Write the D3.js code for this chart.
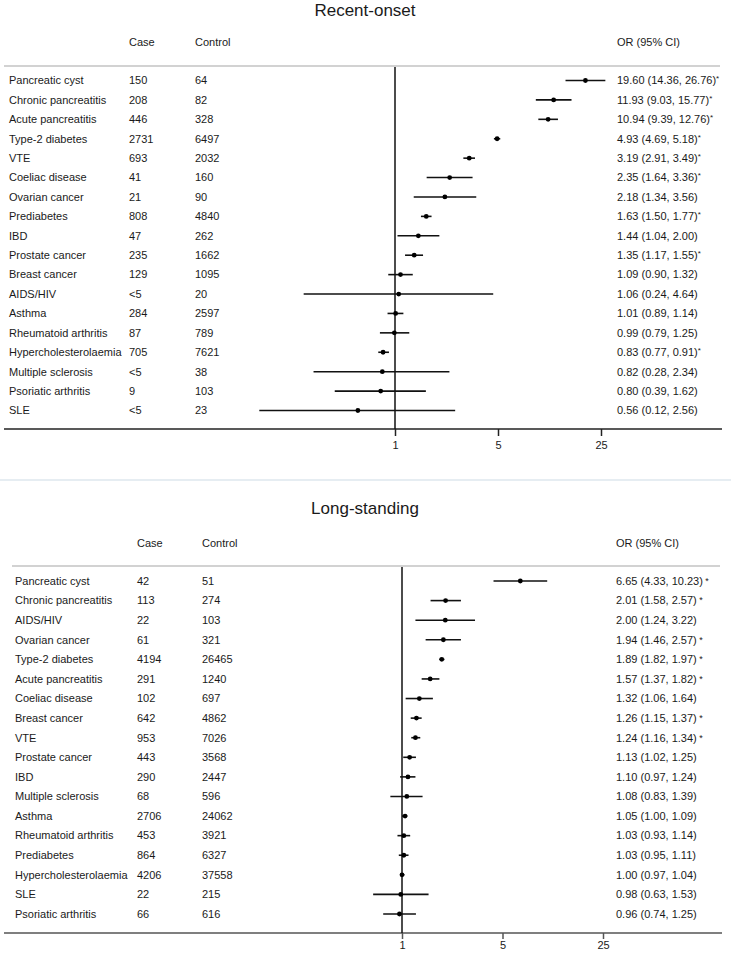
<!DOCTYPE html>
<html>
<head>
<meta charset="utf-8">
<script src="https://cdn.jsdelivr.net/npm/d3@7"></script>
<style>
  html, body { margin: 0; padding: 0; background: #fff; }
  svg { display: block; }
  text { font-family: "Liberation Sans", Arial, Helvetica, sans-serif; fill: #1a1a1a; }
</style>
</head>
<body>
<svg id="chart" width="731" height="954"></svg>
<script>
// ---------- Data: Recent-onset ----------
const recentCategories = ["Pancreatic cyst","Chronic pancreatitis","Acute pancreatitis","Type-2 diabetes","VTE","Coeliac disease","Ovarian cancer","Prediabetes","IBD","Prostate cancer","Breast cancer","AIDS/HIV","Asthma","Rheumatoid arthritis","Hypercholesterolaemia","Multiple sclerosis","Psoriatic arthritis","SLE"];
const recentCase    = ["150","208","446","2731","693","41","21","808","47","235","129","<5","284","87","705","<5","9","<5"];
const recentControl = ["64","82","328","6497","2032","160","90","4840","262","1662","1095","20","2597","789","7621","38","103","23"];
const recentOR      = [19.60,11.93,10.94,4.93,3.19,2.35,2.18,1.63,1.44,1.35,1.09,1.06,1.01,0.99,0.83,0.82,0.80,0.56];
const recentLo      = [14.36,9.03,9.39,4.69,2.91,1.64,1.34,1.50,1.04,1.17,0.90,0.24,0.89,0.79,0.77,0.28,0.39,0.12];
const recentHi      = [26.76,15.77,12.76,5.18,3.49,3.36,3.56,1.77,2.00,1.55,1.32,4.64,1.14,1.25,0.91,2.34,1.62,2.56];
const recentSig     = [1,1,1,1,1,1,0,1,0,1,0,0,0,0,1,0,0,0];

// ---------- Data: Long-standing ----------
const longCategories = ["Pancreatic cyst","Chronic pancreatitis","AIDS/HIV","Ovarian cancer","Type-2 diabetes","Acute pancreatitis","Coeliac disease","Breast cancer","VTE","Prostate cancer","IBD","Multiple sclerosis","Asthma","Rheumatoid arthritis","Prediabetes","Hypercholesterolaemia","SLE","Psoriatic arthritis"];
const longCase    = ["42","113","22","61","4194","291","102","642","953","443","290","68","2706","453","864","4206","22","66"];
const longControl = ["51","274","103","321","26465","1240","697","4862","7026","3568","2447","596","24062","3921","6327","37558","215","616"];
const longOR      = [6.65,2.01,2.00,1.94,1.89,1.57,1.32,1.26,1.24,1.13,1.10,1.08,1.05,1.03,1.03,1.00,0.98,0.96];
const longLo      = [4.33,1.58,1.24,1.46,1.82,1.37,1.06,1.15,1.16,1.02,0.97,0.83,1.00,0.93,0.95,0.97,0.63,0.74];
const longHi      = [10.23,2.57,3.22,2.57,1.97,1.82,1.64,1.37,1.34,1.25,1.24,1.39,1.09,1.14,1.11,1.04,1.53,1.25];
const longSig     = [1,1,0,1,1,1,0,1,1,0,0,0,0,0,0,0,0,0];

// ---------- Axis ticks / headers ----------
const tickValues = [1, 5, 25];
const tickLabels = ["1", "5", "25"];
const headers = ["Case", "Control", "OR (95% CI)"];
const titles = ["Recent-onset", "Long-standing"];

const svg = d3.select("#chart");
const fs = 11;

function panel(cfg) {
  const g = svg.append("g");
  const x = d3.scaleLog().domain([1, 25]).range(cfg.xr);
  const y = d3.scalePoint().domain(cfg.cats).range(cfg.yr);

  // title
  g.append("text").attr("x", 365).attr("y", cfg.titleY).attr("text-anchor", "middle")
    .attr("dy", "0.35em").style("font-size", "17px").text(cfg.title);

  // headers
  [cfg.colCase, cfg.colCtrl, cfg.colOR].forEach((cx, i) => {
    g.append("text").attr("x", cx).attr("y", cfg.headY).attr("dy", "0.35em")
      .style("font-size", fs + "px").text(headers[i]);
  });

  // header rule
  g.append("line").attr("x1", cfg.ruleX1).attr("x2", 720).attr("y1", cfg.ruleY).attr("y2", cfg.ruleY)
    .attr("stroke", "#d2d2d2").attr("stroke-width", 2);

  // axis
  const ax = g.append("g").attr("transform", `translate(0,${cfg.axisY})`)
    .call(d3.axisBottom(x).tickValues(tickValues).tickFormat((d, i) => tickLabels[i]).tickSize(cfg.tickSize).tickPadding(cfg.tickPad));
  ax.select(".domain").remove();
  ax.selectAll(".tick line").attr("stroke", cfg.axisColor).attr("stroke-width", 1.5);
  ax.selectAll(".tick text").style("font-size", fs + "px").style("font-family", "Liberation Sans, Arial, sans-serif").attr("fill", "#1a1a1a");
  g.append("line").attr("x1", 4).attr("x2", 722).attr("y1", cfg.axisY).attr("y2", cfg.axisY)
    .attr("stroke", cfg.axisColor).attr("stroke-width", 1.6);

  // reference line at OR = 1
  g.append("line").attr("x1", x(1)).attr("x2", x(1)).attr("y1", cfg.ruleY + 1).attr("y2", cfg.axisY)
    .attr("stroke", "#111").attr("stroke-width", 1.5);

  const rows = g.selectAll("g.row").data(cfg.cats.map((c, i) => ({
    cat: c, cs: cfg.cs[i], ct: cfg.ct[i], or: cfg.or[i], lo: cfg.lo[i], hi: cfg.hi[i], sig: cfg.sig[i]
  }))).join("g").attr("class", "row");

  rows.append("text").attr("x", cfg.colLabel).attr("y", d => y(d.cat)).attr("dy", "0.35em")
    .style("font-size", fs + "px").text(d => d.cat);
  rows.append("text").attr("x", cfg.colCase).attr("y", d => y(d.cat)).attr("dy", "0.35em")
    .style("font-size", fs + "px").text(d => d.cs);
  rows.append("text").attr("x", cfg.colCtrl).attr("y", d => y(d.cat)).attr("dy", "0.35em")
    .style("font-size", fs + "px").text(d => d.ct);

  const ort = rows.append("text").attr("x", cfg.colOR).attr("y", d => y(d.cat)).attr("dy", "0.35em")
    .style("font-size", fs + "px");
  ort.append("tspan").text(d => `${d.or.toFixed(2)} (${d.lo.toFixed(2)}, ${d.hi.toFixed(2)})`);
  ort.filter(d => d.sig).append("tspan").attr("dy", cfg.starDy).style("font-size", cfg.starSize + "px")
    .text(cfg.starText);

  rows.append("line").attr("x1", d => x(d.lo)).attr("x2", d => x(d.hi))
    .attr("y1", d => y(d.cat)).attr("y2", d => y(d.cat))
    .attr("stroke", "#111").attr("stroke-width", 1.6);
  rows.append("circle").attr("cx", d => x(d.or)).attr("cy", d => y(d.cat)).attr("r", 2.4)
    .attr("fill", "#000");
}

panel({
  title: titles[0], titleY: 10, headY: 42, ruleY: 66, ruleX1: 4,
  cats: recentCategories, cs: recentCase, ct: recentControl, or: recentOR, lo: recentLo, hi: recentHi, sig: recentSig,
  xr: [395, 601], yr: [80.5, 410.5], axisY: 429, axisColor: "#222", tickSize: 7, tickPad: 5,
  colLabel: 9, colCase: 129, colCtrl: 195, colOR: 617,
  starDy: -3, starSize: 8, starText: "*"
});

// separator between panels
svg.append("line").attr("x1", 0).attr("x2", 731).attr("y1", 480).attr("y2", 480)
  .attr("stroke", "#e6edf2").attr("stroke-width", 2);

panel({
  title: titles[1], titleY: 508, headY: 543, ruleY: 566, ruleX1: 12,
  cats: longCategories, cs: longCase, ct: longControl, or: longOR, lo: longLo, hi: longHi, sig: longSig,
  xr: [402, 603], yr: [581, 914], axisY: 933, axisColor: "#555", tickSize: 6, tickPad: 2,
  colLabel: 15, colCase: 137, colCtrl: 202, colOR: 616,
  starDy: -1, starSize: 9, starText: " *"
});
</script>
</body>
</html>
